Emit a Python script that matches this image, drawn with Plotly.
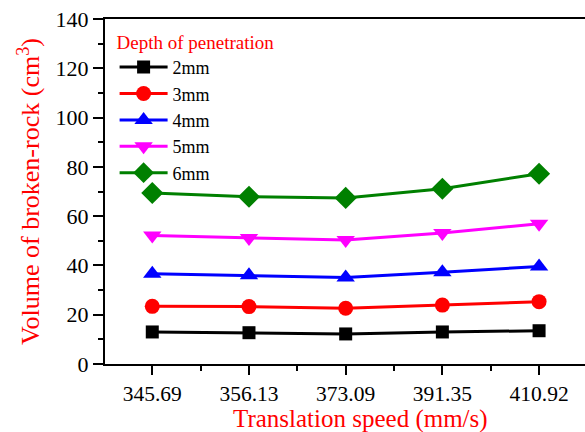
import plotly.graph_objects as go

speeds = ["345.69", "356.13", "373.09", "391.35", "410.92"]
depth_2mm = [13.0, 12.7, 12.2, 13.0, 13.5]
depth_3mm = [23.4, 23.3, 22.6, 23.9, 25.3]
depth_4mm = [36.6, 36.0, 35.1, 37.2, 39.6]
depth_5mm = [52.1, 51.1, 50.3, 53.2, 56.9]
depth_6mm = [69.4, 67.9, 67.4, 71.1, 77.2]

series = [
    ("2mm", depth_2mm, "#000000", "square", 13),
    ("3mm", depth_3mm, "#FF0000", "circle", 15),
    ("4mm", depth_4mm, "#0000FF", "triangle-up", 16),
    ("5mm", depth_5mm, "#FF00FF", "triangle-down", 16),
    ("6mm", depth_6mm, "#008000", "diamond", 17),
]

xpos = list(range(len(speeds)))
FONT = "Liberation Serif"

fig = go.Figure()
for name, vals, color, sym, sz in series:
    fig.add_trace(go.Scatter(
        x=xpos, y=vals, name=name, mode="lines+markers",
        line=dict(color=color, width=3),
        marker=dict(symbol=sym, size=sz, color=color),
    ))

fig.update_layout(
    width=585, height=432,
    margin=dict(l=105, r=0, t=19, b=68),
    paper_bgcolor="white", plot_bgcolor="white",
    font=dict(family=FONT, color="black", size=21),
    showlegend=True,
    legend=dict(
        x=0.02, y=0.985, xanchor="left", yanchor="top",
        bgcolor="rgba(0,0,0,0)",
        title=dict(text="Depth of penetration", font=dict(color="#FF0000", size=19, family=FONT)),
        font=dict(size=18, family=FONT, color="black"),
        itemwidth=48,
        tracegroupgap=0,
    ),
    xaxis=dict(
        range=[-0.489, 4.475],
        tickmode="array", tickvals=xpos, ticktext=speeds,
        showgrid=False, zeroline=False,
        showline=True, linecolor="black", linewidth=2, mirror=True,
        ticks="outside", ticklen=9, tickwidth=1.5, tickcolor="black",
        minor=dict(tickmode="linear", tick0=-0.5, dtick=0.5, ticks="outside", ticklen=5, tickwidth=1.5, tickcolor="black"),
        tickfont=dict(size=21.5, family=FONT),
    ),
    yaxis=dict(
        range=[0, 140], dtick=20, tick0=0,
        showgrid=False, zeroline=False,
        showline=True, linecolor="black", linewidth=2,
        ticks="outside", ticklen=10, tickwidth=1.5, tickcolor="black",
        minor=dict(dtick=10, ticks="outside", ticklen=5, tickwidth=1.5, tickcolor="black"),
        tickfont=dict(size=22, family=FONT),
        title=dict(text="Volume of broken-rock (cm<sup>3</sup>)", font=dict(color="#FF0000", size=26, family=FONT), standoff=8),
    ),
    annotations=[dict(
        text="Translation speed (mm/s)", xref="paper", yref="paper",
        x=0.533, y=-0.112, xanchor="center", yanchor="top", showarrow=False,
        font=dict(color="#FF0000", size=25, family=FONT),
    )],
)

fig.write_html("out.html")
